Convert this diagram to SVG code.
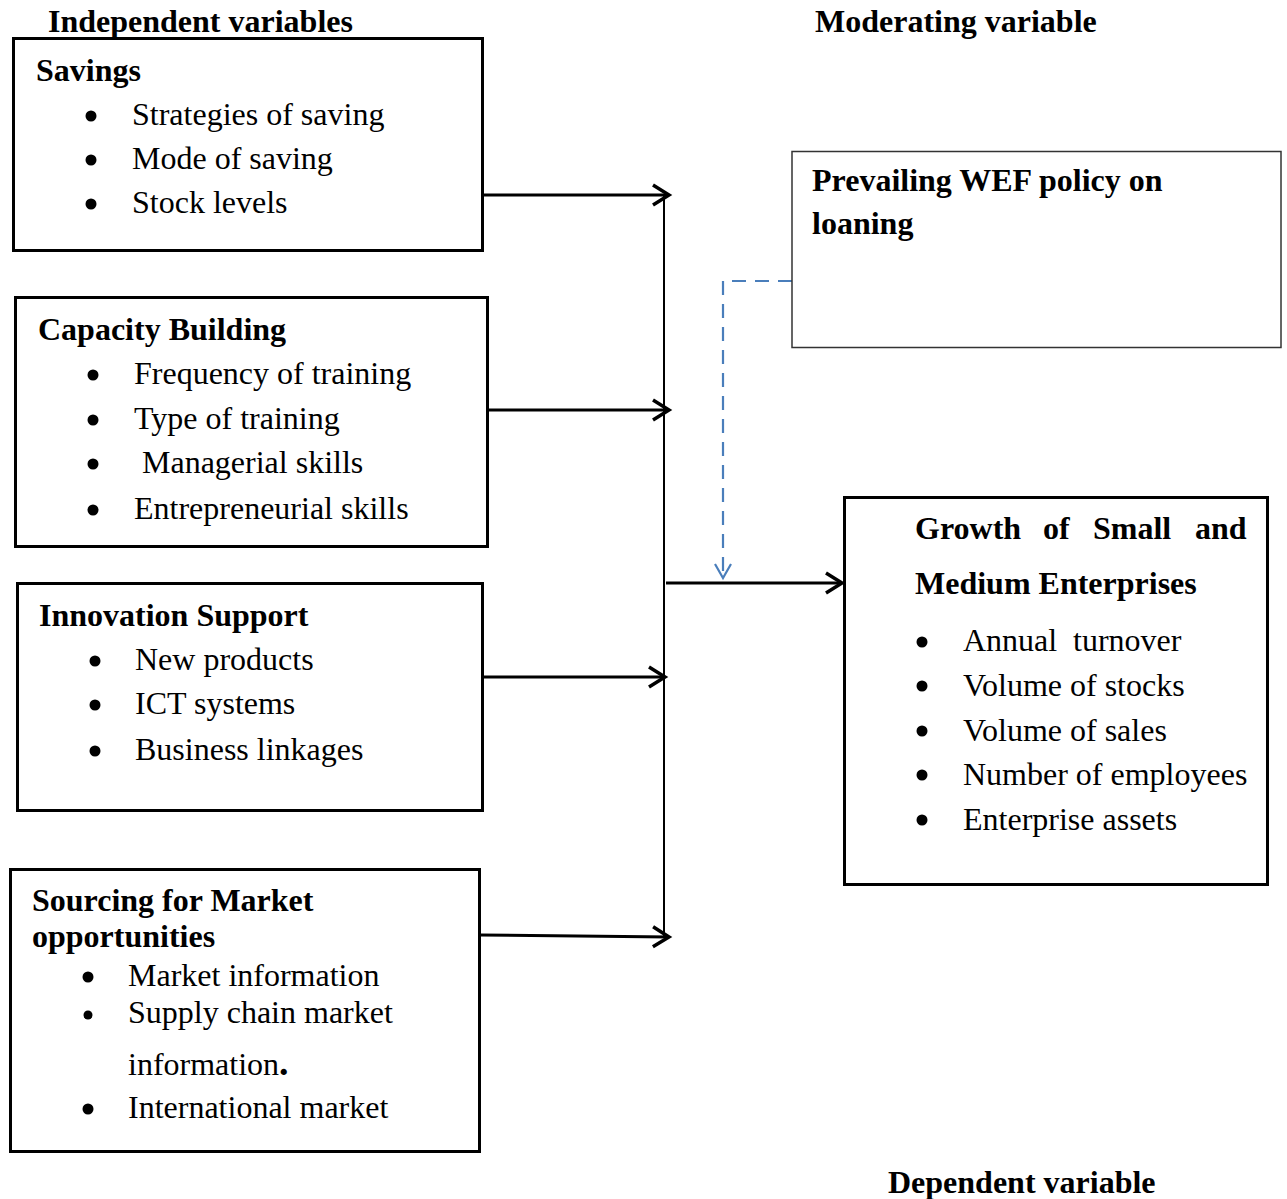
<svg xmlns="http://www.w3.org/2000/svg" width="1287" height="1199" viewBox="0 0 1287 1199">
<style>
text{font-family:"Liberation Serif","Times New Roman",serif;font-size:32px;fill:#000}
.b{font-weight:bold}
.box{fill:#fff;stroke:#000;stroke-width:3}
.mod{fill:#fff;stroke:#333;stroke-width:1.5}
.conn{stroke:#000;stroke-width:3;fill:none}
.vline{stroke:#000;stroke-width:2;fill:none}
.dash{stroke:#4a7ebb;stroke-width:2.2;fill:none;stroke-dasharray:14,9}
.dot{fill:#000}
</style>
<defs>
<marker id="ah" markerUnits="userSpaceOnUse" markerWidth="22" markerHeight="24" refX="18" refY="11" orient="auto" overflow="visible">
<path d="M2,1 L18,11 L2,21" fill="none" stroke="#000" stroke-width="3.5"/>
</marker>
<marker id="ahb" markerUnits="userSpaceOnUse" markerWidth="20" markerHeight="22" refX="15" refY="9" orient="auto" overflow="visible">
<path d="M1,1 L15,9 L1,17" fill="none" stroke="#4a7ebb" stroke-width="2.2"/>
</marker>
</defs>

<g id="headers">
<text class="b" x="48" y="32">Independent variables</text>
<text class="b" x="815" y="32">Moderating variable</text>
<text class="b" x="888" y="1193">Dependent variable</text>
</g>

<g id="connectors">
<line class="vline" x1="664" y1="194" x2="664" y2="938"/>
<line class="conn" x1="483" y1="195" x2="669" y2="195" marker-end="url(#ah)"/>
<line class="conn" x1="488" y1="410" x2="669" y2="410" marker-end="url(#ah)"/>
<line class="conn" x1="483" y1="677" x2="665" y2="677" marker-end="url(#ah)"/>
<line class="conn" x1="480" y1="935" x2="669" y2="937" marker-end="url(#ah)"/>
<line class="conn" x1="666" y1="583" x2="842" y2="583" marker-end="url(#ah)"/>
<path class="dash" d="M792,281 H723 V578" marker-end="url(#ahb)"/>
</g>

<g id="savings">
<rect class="box" x="13.5" y="38.5" width="469" height="212"/>
<text class="b" x="36" y="81">Savings</text>
<circle class="dot" cx="91" cy="116" r="5.5"/>
<text x="132" y="125">Strategies of saving</text>
<circle class="dot" cx="91" cy="160" r="5.5"/>
<text x="132" y="169">Mode of saving</text>
<circle class="dot" cx="91" cy="204" r="5.5"/>
<text x="132" y="213">Stock levels</text>
</g>

<g id="capacity">
<rect class="box" x="15.5" y="297.5" width="472" height="249"/>
<text class="b" x="38" y="340">Capacity Building</text>
<circle class="dot" cx="93" cy="375" r="5.5"/>
<text x="134" y="384">Frequency of training</text>
<circle class="dot" cx="93" cy="420" r="5.5"/>
<text x="134" y="429">Type of training</text>
<circle class="dot" cx="93" cy="464" r="5.5"/>
<text x="142" y="473">Managerial skills</text>
<circle class="dot" cx="93" cy="510" r="5.5"/>
<text x="134" y="519">Entrepreneurial skills</text>
</g>

<g id="innovation">
<rect class="box" x="17.5" y="583.5" width="465" height="227"/>
<text class="b" x="39" y="626">Innovation Support</text>
<circle class="dot" cx="95" cy="661" r="5.5"/>
<text x="135" y="670">New products</text>
<circle class="dot" cx="95" cy="705" r="5.5"/>
<text x="135" y="714">ICT systems</text>
<circle class="dot" cx="95" cy="751" r="5.5"/>
<text x="135" y="760">Business linkages</text>
</g>

<g id="sourcing">
<rect class="box" x="10.5" y="869.5" width="469" height="282"/>
<text class="b" x="32" y="911">Sourcing for Market</text>
<text class="b" x="32" y="947">opportunities</text>
<circle class="dot" cx="88" cy="977" r="5.5"/>
<text x="128" y="986">Market information</text>
<circle class="dot" cx="88" cy="1015" r="4.5"/>
<text x="128" y="1023">Supply chain market</text>
<text x="128" y="1075">information<tspan font-size="38" font-weight="bold">.</tspan></text>
<circle class="dot" cx="88" cy="1109" r="5.5"/>
<text x="128" y="1118">International market</text>
</g>

<g id="moderating">
<rect class="mod" x="792" y="151.5" width="489" height="196"/>
<text class="b" x="812" y="191">Prevailing WEF policy on</text>
<text class="b" x="812" y="234">loaning</text>
</g>

<g id="growth">
<rect class="box" x="844.5" y="497.5" width="423" height="387"/>
<text class="b" x="915" y="539">Growth</text>
<text class="b" x="1043" y="539">of</text>
<text class="b" x="1093" y="539">Small</text>
<text class="b" x="1195" y="539">and</text>
<text class="b" x="915" y="594">Medium Enterprises</text>
<circle class="dot" cx="922" cy="642" r="5.5"/>
<text x="963" y="651">Annual<tspan x="1073">turnover</tspan></text>
<circle class="dot" cx="922" cy="686" r="5.5"/>
<text x="963" y="696">Volume of stocks</text>
<circle class="dot" cx="922" cy="731" r="5.5"/>
<text x="963" y="741">Volume of sales</text>
<circle class="dot" cx="922" cy="775" r="5.5"/>
<text x="963" y="785">Number of employees</text>
<circle class="dot" cx="922" cy="820" r="5.5"/>
<text x="963" y="830">Enterprise assets</text>
</g>
</svg>
